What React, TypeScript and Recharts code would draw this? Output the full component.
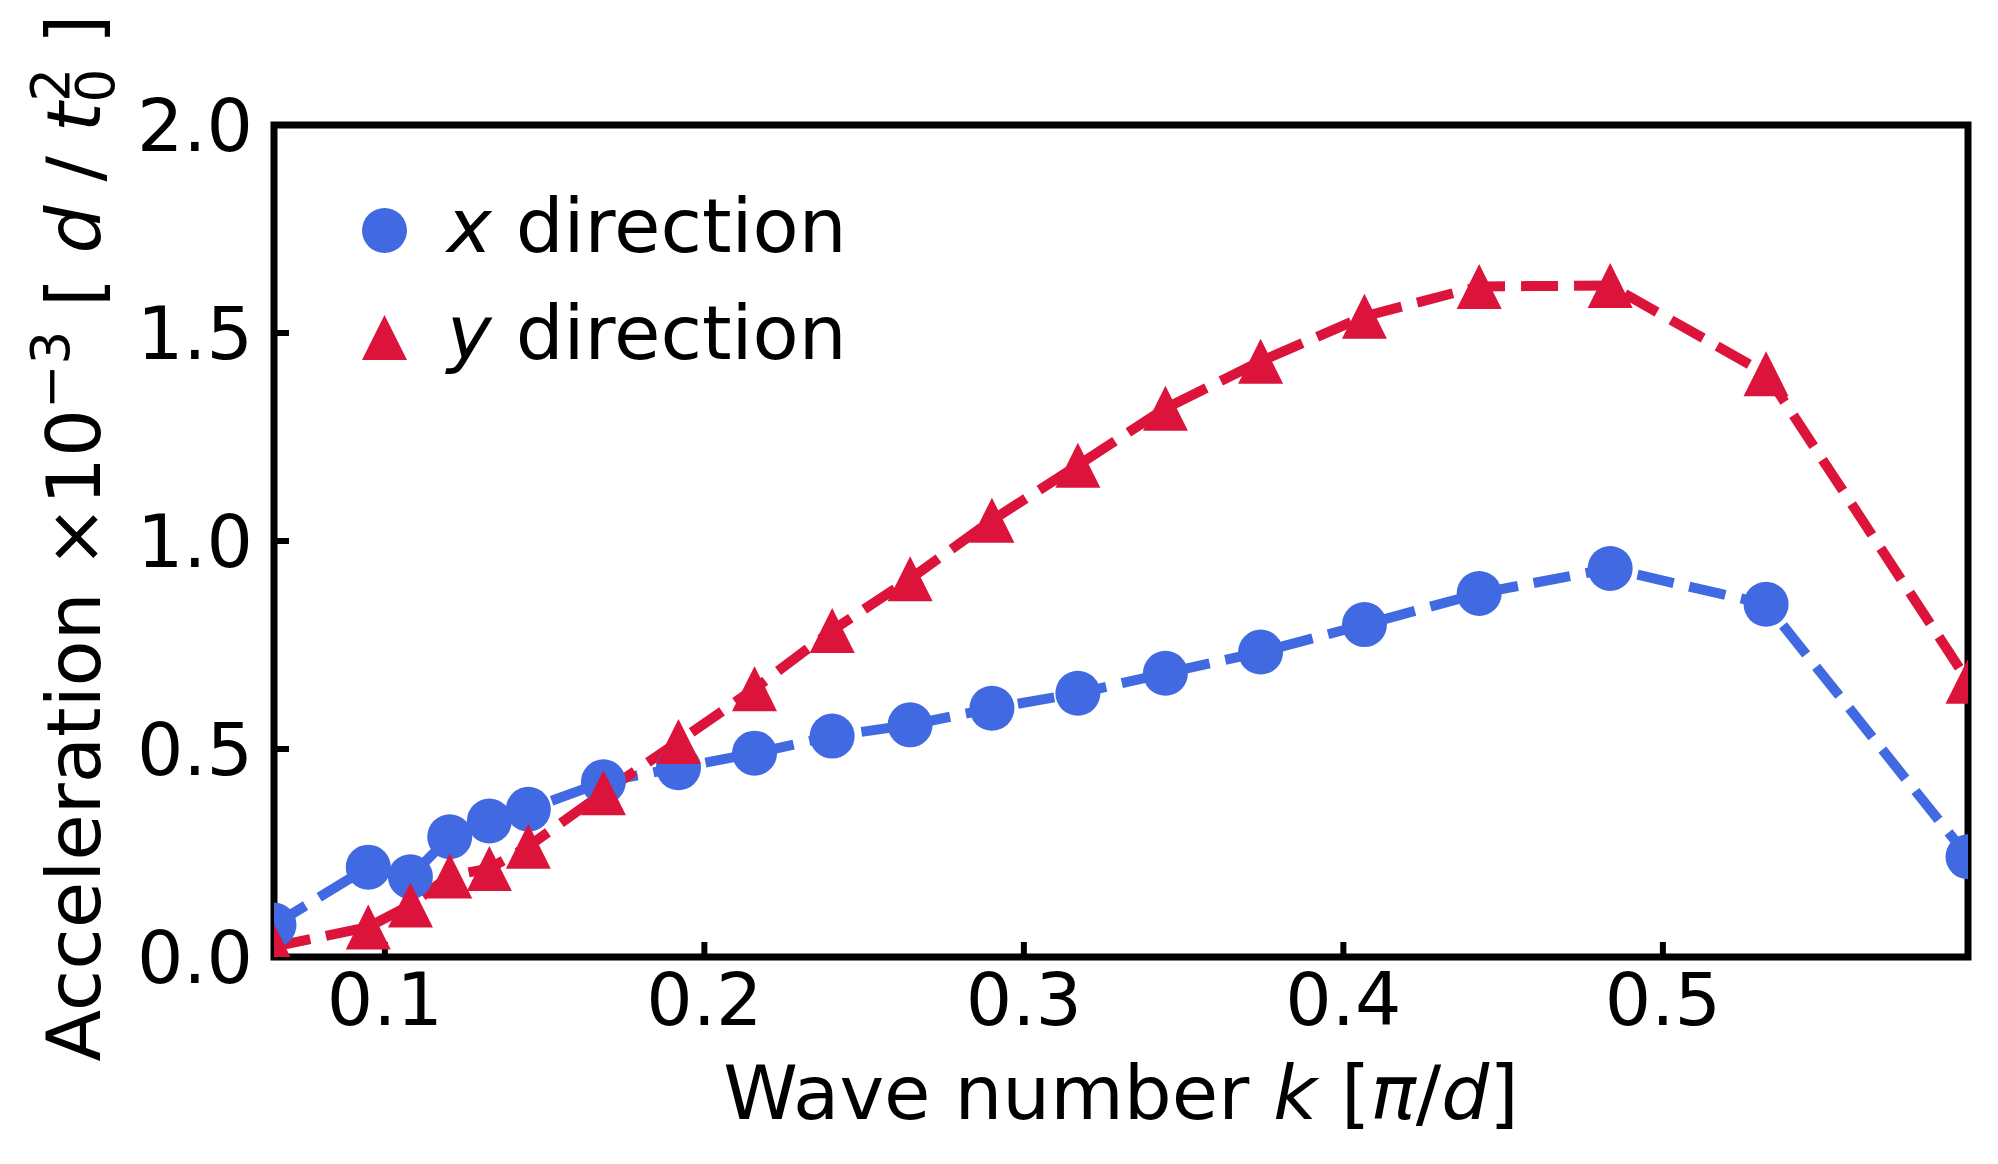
import { Legend, Line, LineChart, ReferenceArea, XAxis, YAxis } from "recharts";

const FONT = "'DejaVu Sans', sans-serif";
const TICK_SIZE = 73;
const LABEL_SIZE = 75.5;
const BLUE = "#4169e1";
const RED = "#dc143c";

// wave number k [pi/d]
const waveNumber = [
  0.0653, 0.0948, 0.108, 0.1203, 0.1327, 0.1449, 0.1684, 0.1919, 0.2157, 0.24,
  0.2644, 0.29, 0.3169, 0.3443, 0.3741, 0.4066, 0.4425, 0.4835, 0.5323, 0.5955,
];
// acceleration x 1e-3 [d / t0^2]
const accelX = [
  0.077, 0.216, 0.193, 0.289, 0.327, 0.355, 0.421, 0.455, 0.49, 0.531, 0.558,
  0.598, 0.634, 0.682, 0.733, 0.799, 0.874, 0.934, 0.848, 0.241,
];
const accelY = [
  0.025, 0.072, 0.125, 0.195, 0.213, 0.266, 0.395, 0.518, 0.645, 0.785, 0.909,
  1.05, 1.182, 1.319, 1.432, 1.54, 1.612, 1.614, 1.402, 0.663,
];

const xTicks = [0.1, 0.2, 0.3, 0.4, 0.5];
const yTicks = [0, 0.5, 1, 1.5, 2];
const xDomain: [number, number] = [waveNumber[0], waveNumber[waveNumber.length - 1]];
const yDomain: [number, number] = [0, 2];

const data = waveNumber.map((k, i) => ({ k, ax: accelX[i], ay: accelY[i] }));

const MARKER = 45;
const tickStyle = { fill: "#000", fontSize: TICK_SIZE, fontFamily: FONT };
const tickLineStyle = { stroke: "#000", strokeWidth: 6 };

function Circle(props: any) {
  const { cx, cy, index } = props;
  if (cx == null || cy == null) return null;
  return <circle key={`c-${index}`} cx={cx} cy={cy} r={MARKER / 2} fill={BLUE} />;
}

function Triangle(props: any) {
  const { cx, cy, index } = props;
  if (cx == null || cy == null) return null;
  const h = MARKER / 2;
  return (
    <path
      key={`t-${index}`}
      d={`M${cx},${cy - h}L${cx - h},${cy + h}L${cx + h},${cy + h}Z`}
      fill={RED}
    />
  );
}

function XTitle(props: any) {
  const vb = props.viewBox ?? { x: 274, y: 957, width: 1694, height: 150 };
  return (
    <text
      x={vb.x + vb.width / 2}
      y={vb.y + 162}
      textAnchor="middle"
      fontFamily={FONT}
      fontSize={LABEL_SIZE}
      fill="#000"
      style={{ whiteSpace: "pre" }}
    >
      <tspan>Wave number </tspan>
      <tspan fontStyle="italic">k</tspan>
      <tspan> [</tspan>
      <tspan fontStyle="italic">π</tspan>
      <tspan>/</tspan>
      <tspan fontStyle="italic">d</tspan>
      <tspan>]</tspan>
    </text>
  );
}

function YTitle(props: any) {
  const vb = props.viewBox ?? { x: 74, y: 125, width: 200, height: 832 };
  const cx = vb.x + 26;
  const cy = vb.y + vb.height / 2 - 3;
  const small = 53;
  return (
    <text
      x={cx}
      y={cy}
      transform={`rotate(-90, ${cx}, ${cy})`}
      textAnchor="middle"
      fontFamily={FONT}
      fontSize={LABEL_SIZE}
      fill="#000"
      style={{ whiteSpace: "pre" }}
    >
      <tspan>Acceleration ×10</tspan>
      <tspan dy={-31} fontSize={small}>−3</tspan>
      <tspan dy={31}> [ </tspan>
      <tspan fontStyle="italic">d</tspan>
      <tspan> / </tspan>
      <tspan fontStyle="italic">t</tspan>
      <tspan dy={14} fontSize={small}>0</tspan>
      <tspan dx={-33} dy={-45} fontSize={small}>2</tspan>
      <tspan dy={31}> ]</tspan>
    </text>
  );
}

const legendItems = [
  { name: "x", color: BLUE, shape: "circle" },
  { name: "y", color: RED, shape: "triangle" },
];

function LegendBox() {
  return (
    <div style={{ fontFamily: FONT, fontSize: LABEL_SIZE, lineHeight: 1, color: "#000" }}>
      {legendItems.map((item) => (
        <div
          key={item.name}
          style={{ display: "flex", alignItems: "center", height: 107 }}
        >
          <svg width={MARKER + 4} height={MARKER + 4} style={{ flex: "none" }}>
            {item.shape === "circle" ? (
              <circle cx={(MARKER + 4) / 2} cy={(MARKER + 4) / 2} r={MARKER / 2} fill={item.color} />
            ) : (
              <path
                d={`M${(MARKER + 4) / 2},2L2,${MARKER + 2}L${MARKER + 2},${MARKER + 2}Z`}
                fill={item.color}
              />
            )}
          </svg>
          <span style={{ marginLeft: 38, position: "relative", top: -4, whiteSpace: "pre" }}>
            <i>{item.name}</i> direction
          </span>
        </div>
      ))}
    </div>
  );
}

export default function App() {
  return (
    <div style={{ position: "absolute", left: 0, top: 0, background: "#fff" }}>
      <LineChart
        width={1998}
        height={1164}
        data={data}
        margin={{ top: 105, right: 20, bottom: 57, left: 74 }}
      >
        <XAxis
          xAxisId="bottom"
          dataKey="k"
          type="number"
          domain={xDomain}
          allowDataOverflow
          ticks={xTicks}
          interval={0}
          tickFormatter={(v: number) => v.toFixed(1)}
          height={150}
          axisLine={false}
          tickSize={-15}
          tickMargin={31}
          tick={tickStyle}
          tickLine={tickLineStyle}
          label={<XTitle />}
        />
        <XAxis
          xAxisId="top"
          orientation="top"
          dataKey="k"
          type="number"
          domain={xDomain}
          allowDataOverflow
          ticks={xTicks}
          interval={0}
          height={20}
          axisLine={false}
          tickSize={-15}
          tick={false}
          tickLine={tickLineStyle}
        />
        <YAxis
          yAxisId="left"
          type="number"
          domain={yDomain}
          allowDataOverflow
          ticks={yTicks}
          interval={0}
          tickFormatter={(v: number) => v.toFixed(1)}
          width={200}
          axisLine={false}
          tickSize={-15}
          tickMargin={36}
          tick={tickStyle}
          tickLine={tickLineStyle}
          label={<YTitle />}
        />
        <YAxis
          yAxisId="right"
          orientation="right"
          type="number"
          domain={yDomain}
          allowDataOverflow
          ticks={yTicks}
          interval={0}
          width={10}
          axisLine={false}
          tickSize={-15}
          tick={false}
          tickLine={tickLineStyle}
        />
        <Line
          xAxisId="bottom"
          yAxisId="left"
          type="linear"
          dataKey="ax"
          stroke={BLUE}
          strokeWidth={10}
          strokeDasharray="37 16"
          dot={Circle}
          activeDot={false}
          isAnimationActive={false}
        />
        <Line
          xAxisId="bottom"
          yAxisId="left"
          type="linear"
          dataKey="ay"
          stroke={RED}
          strokeWidth={10}
          strokeDasharray="37 16"
          dot={Triangle}
          activeDot={false}
          isAnimationActive={false}
        />
        <ReferenceArea
          xAxisId="bottom"
          yAxisId="left"
          x1={xDomain[0]}
          x2={xDomain[1]}
          y1={yDomain[0]}
          y2={yDomain[1]}
          fill="none"
          fillOpacity={0}
          stroke="#000"
          strokeWidth={7}
          strokeOpacity={1}
        />
        <Legend
          layout="vertical"
          align="center"
          verticalAlign="middle"
          content={<LegendBox />}
          wrapperStyle={{ left: 360, top: 177, width: "auto", height: "auto" }}
        />
      </LineChart>
    </div>
  );
}
